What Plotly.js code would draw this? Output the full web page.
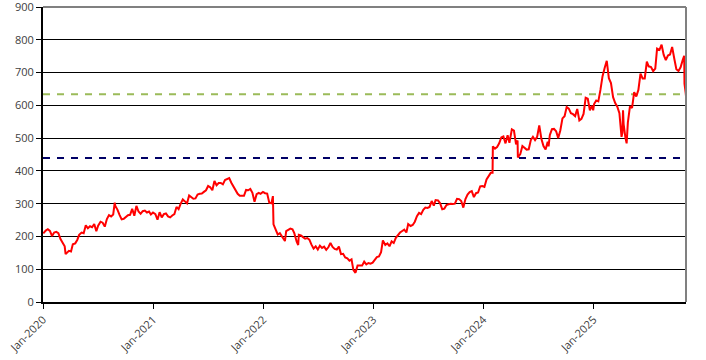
<!DOCTYPE html>
<html>
<head>
<meta charset="utf-8">
<script src="https://cdn.plot.ly/plotly-3.0.1.min.js"></script>
<style>
html,body{margin:0;padding:0;background:#fff;}
#chart{width:706px;height:360px;}
</style>
</head>
<body>
<div id="chart"></div>
<script>
// Price series
const dates = [
"2020-01-02","2020-01-10","2020-01-17","2020-01-24","2020-01-31","2020-02-07","2020-02-14","2020-02-21","2020-02-28","2020-03-06","2020-03-13","2020-03-16","2020-03-20","2020-03-27","2020-04-03","2020-04-09","2020-04-17","2020-04-24","2020-04-30","2020-05-08","2020-05-15","2020-05-22","2020-05-29","2020-06-05","2020-06-12","2020-06-19","2020-06-26","2020-07-02","2020-07-10","2020-07-17","2020-07-24","2020-07-31","2020-08-07","2020-08-14","2020-08-21","2020-08-26","2020-08-28","2020-09-04","2020-09-11","2020-09-18","2020-09-25","2020-10-02","2020-10-09","2020-10-16","2020-10-23","2020-10-30","2020-11-06","2020-11-13","2020-11-20","2020-11-27","2020-12-04","2020-12-11","2020-12-18","2020-12-24","2020-12-31",
"2021-01-08","2021-01-15","2021-01-22","2021-01-29","2021-02-05","2021-02-12","2021-02-19","2021-02-26","2021-03-05","2021-03-12","2021-03-19","2021-03-26","2021-04-01","2021-04-09","2021-04-16","2021-04-23","2021-04-30","2021-05-07","2021-05-14","2021-05-21","2021-05-28","2021-06-04","2021-06-11","2021-06-18","2021-06-25","2021-07-02","2021-07-09","2021-07-16","2021-07-23","2021-07-30","2021-08-06","2021-08-13","2021-08-20","2021-08-27","2021-09-03","2021-09-10","2021-09-17","2021-09-24","2021-10-01","2021-10-08","2021-10-15","2021-10-22","2021-10-29","2021-11-05","2021-11-12","2021-11-19","2021-11-26","2021-12-03","2021-12-10","2021-12-17","2021-12-23","2021-12-31",
"2022-01-07","2022-01-14","2022-01-21","2022-01-28","2022-02-02","2022-02-04","2022-02-11","2022-02-18","2022-02-25","2022-03-04","2022-03-11","2022-03-14","2022-03-18","2022-03-25","2022-04-01","2022-04-08","2022-04-14","2022-04-22","2022-04-27","2022-04-29","2022-05-06","2022-05-13","2022-05-20","2022-05-27","2022-06-03","2022-06-10","2022-06-17","2022-06-24","2022-07-01","2022-07-08","2022-07-15","2022-07-22","2022-07-29","2022-08-05","2022-08-12","2022-08-19","2022-08-26","2022-09-02","2022-09-09","2022-09-16","2022-09-23","2022-09-30","2022-10-07","2022-10-14","2022-10-21","2022-10-27","2022-11-03","2022-11-10","2022-11-18","2022-11-25","2022-12-02","2022-12-09","2022-12-16","2022-12-23","2022-12-30",
"2023-01-06","2023-01-13","2023-01-20","2023-01-27","2023-02-02","2023-02-10","2023-02-17","2023-02-24","2023-03-03","2023-03-10","2023-03-17","2023-03-24","2023-03-31","2023-04-06","2023-04-14","2023-04-21","2023-04-27","2023-05-05","2023-05-12","2023-05-19","2023-05-26","2023-06-02","2023-06-09","2023-06-16","2023-06-23","2023-06-30","2023-07-07","2023-07-14","2023-07-21","2023-07-27","2023-08-04","2023-08-11","2023-08-18","2023-08-25","2023-09-01","2023-09-08","2023-09-15","2023-09-22","2023-09-29","2023-10-06","2023-10-13","2023-10-20","2023-10-27","2023-11-03","2023-11-10","2023-11-17","2023-11-24","2023-12-01","2023-12-08","2023-12-15","2023-12-22","2023-12-29",
"2024-01-05","2024-01-12","2024-01-19","2024-01-26","2024-02-01","2024-02-02","2024-02-09","2024-02-16","2024-02-23","2024-03-01","2024-03-08","2024-03-15","2024-03-22","2024-03-28","2024-04-05","2024-04-12","2024-04-19","2024-04-24","2024-04-25","2024-05-03","2024-05-10","2024-05-17","2024-05-24","2024-05-31","2024-06-07","2024-06-14","2024-06-21","2024-06-28","2024-07-05","2024-07-12","2024-07-19","2024-07-26","2024-08-02","2024-08-05","2024-08-09","2024-08-16","2024-08-23","2024-08-30","2024-09-06","2024-09-13","2024-09-20","2024-09-27","2024-10-04","2024-10-11","2024-10-18","2024-10-25","2024-11-01","2024-11-08","2024-11-15","2024-11-22","2024-11-29","2024-12-06","2024-12-13","2024-12-20","2024-12-27","2024-12-31",
"2025-01-03","2025-01-10","2025-01-17","2025-01-24","2025-01-31","2025-02-07","2025-02-14","2025-02-21","2025-02-28","2025-03-07","2025-03-14","2025-03-21","2025-03-28","2025-04-04","2025-04-07","2025-04-09","2025-04-11","2025-04-17","2025-04-21","2025-04-25","2025-05-02","2025-05-09","2025-05-16","2025-05-23","2025-05-30","2025-06-06","2025-06-13","2025-06-20","2025-06-27","2025-07-03","2025-07-11","2025-07-18","2025-07-25","2025-07-31","2025-08-08","2025-08-15","2025-08-22","2025-08-29","2025-09-05","2025-09-12","2025-09-19","2025-09-26","2025-10-03","2025-10-10","2025-10-17","2025-10-24","2025-10-29","2025-10-30","2025-10-31","2025-11-03","2025-11-04"
];
const prices = [
209,218,222,217,201,212,214,210,192,181,170,146,149,156,154,176,179,190,205,212,210,234,225,231,228,238,216,233,245,242,230,253,265,261,267,303,293,282,266,252,254,259,265,266,284,263,293,276,269,277,279,273,276,267,273,
268,251,274,258,268,270,261,258,264,268,290,283,298,313,307,301,325,319,315,316,328,330,331,336,341,354,350,341,369,356,363,363,359,372,376,378,364,352,343,330,324,325,324,342,341,345,333,306,329,333,330,336,
332,331,303,301,323,237,219,206,210,200,187,186,216,221,224,222,210,184,174,205,203,198,193,195,190,175,163,170,160,172,165,169,159,167,180,168,162,160,169,146,147,136,133,126,130,98,89,111,112,111,123,115,119,117,120,
130,137,139,152,188,174,179,170,185,180,196,206,212,216,221,212,238,232,235,245,262,272,268,281,288,287,290,308,294,311,310,301,283,285,296,298,300,299,300,315,314,308,288,314,328,335,338,320,332,334,353,354,
351,374,383,394,394,475,468,473,484,502,505,484,509,486,527,523,481,493,441,451,476,471,465,466,494,504,494,504,539,498,476,465,489,475,509,527,528,521,500,524,560,567,595,590,576,573,567,589,554,559,574,623,620,585,599,585,
604,615,612,647,689,714,736,683,668,625,607,596,576,504,516,585,543,501,484,547,597,592,640,627,647,697,682,682,733,719,717,704,712,773,769,785,754,738,752,755,778,743,710,705,716,738,751,666,648,637,628
];
// Reference levels (dashed horizontal lines)
const levelNames = ["Upper level","Lower level"];
const levelValues = [634, 439];
const levelColors = ["#9BBB59","#000066"];
// Axis tick labels
const xTickVals = ["2020-01-01","2021-01-01","2022-01-01","2023-01-01","2024-01-01","2025-01-01"];
const xTickText = ["Jan-2020","Jan-2021","Jan-2022","Jan-2023","Jan-2024","Jan-2025"];
const yTickVals = [0,100,200,300,400,500,600,700,800,900];

const xStart = xTickVals[0], xEnd = dates[dates.length-1];

const traces = [];
levelValues.forEach((v,i)=>{
  traces.push({
    x:[xStart,xEnd], y:[v,v], type:'scatter', mode:'lines', name:levelNames[i],
    line:{color:levelColors[i], width:2, dash:'7px,7px'}, hoverinfo:'skip'
  });
});
traces.push({
  x:dates, y:prices, type:'scatter', mode:'lines', name:'Price',
  line:{color:'#FF0000', width:2}
});

const layout = {
  width:706, height:360,
  margin:{l:43, r:20, t:7, b:58},
  paper_bgcolor:'#ffffff', plot_bgcolor:'#ffffff',
  showlegend:false,
  font:{family:'"Open Sans", "Noto Sans", sans-serif', size:11, color:'#404040'},
  xaxis:{
    type:'date', range:[xStart, xEnd],
    tickmode:'array', tickvals:xTickVals, ticktext:xTickText, tickangle:-45,
    showgrid:false, zeroline:false,
    showline:true, linecolor:'#000000', linewidth:2,
    ticks:'outside', ticklen:5, tickcolor:'#000000', tickwidth:1,
    tickfont:{size:11, color:'#404040'}, ticklabeloverflow:'allow'
  },
  yaxis:{
    range:[0,900], tickmode:'array', tickvals:yTickVals,
    showgrid:true, gridcolor:'#000000', gridwidth:1, zeroline:false,
    showline:true, linecolor:'#000000', linewidth:2,
    ticks:'outside', ticklen:5, tickcolor:'#000000', tickwidth:1,
    tickfont:{size:11, color:'#404040'}, ticklabeloverflow:'allow'
  },
  shapes:[
    {type:'line', xref:'paper', yref:'paper', x0:0, x1:1, y0:1, y1:1, line:{color:'#808080', width:2}},
    {type:'line', xref:'paper', yref:'paper', x0:1, x1:1, y0:0, y1:1, line:{color:'#808080', width:2}}
  ]
};

Plotly.newPlot('chart', traces, layout, {displayModeBar:false, staticPlot:true});
</script>
</body>
</html>
